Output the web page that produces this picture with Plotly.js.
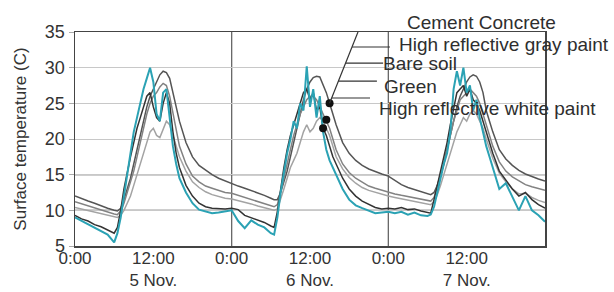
<!DOCTYPE html>
<html>
<head>
<meta charset="utf-8">
<script src="https://cdn.plot.ly/plotly-3.0.1.min.js"></script>
<style>html,body{margin:0;padding:0;background:#fff;}#chart{width:614px;height:292px;}</style>
</head>
<body>
<div id="chart"></div>
<script>
// Time in hours since 0:00, 5 Nov.
var hours = [0,1,2,3,4,5,6,6.5,7,7.5,8,8.5,9,9.5,10,10.5,11,11.5,12,12.5,13,13.5,14,14.5,15,15.5,16,17,18,19,20,21,22,23,
  24,25,26,27,28,29,30,30.5,31,31.5,32,32.5,33,33.5,34,34.5,35,35.5,36,36.5,37,37.5,38,38.5,39,39.5,40,41,42,43,44,45,46,47,
  48,49,50,51,52,53,54,54.5,55,55.5,56,56.5,57,57.5,58,58.5,59,59.5,60,60.5,61,61.5,62,62.5,63,63.5,64,65,66,67,68,69,70,71,72];

var cementConcrete = [12.0,11.6,11.3,11.0,10.6,10.3,10.0,9.9,10.3,11.5,13.0,14.5,16.5,18.5,20.5,22.5,24.5,26.0,27.0,28.0,29.0,29.5,29.3,28.5,26.5,24.5,22.5,19.5,17.5,16.3,15.6,15.0,14.5,14.1,
  13.8,13.4,13.1,12.8,12.4,12.1,11.7,11.5,11.5,12.5,14.0,15.5,17.5,19.5,21.5,23.5,25.5,27.0,28.0,28.6,28.8,28.7,27.5,26.5,25.0,23.5,22.0,19.5,18.0,17.0,16.3,15.8,15.4,15.1,
  14.8,14.2,13.6,13.2,12.9,12.6,12.3,12.2,12.5,13.5,15.0,16.5,18.5,20.5,22.5,24.5,26.0,27.0,28.0,28.7,29.0,28.8,28.0,26.5,24.0,22.5,21.0,18.5,17.2,16.3,15.6,15.1,14.7,14.4,14.1];

var grayPaint = [11.2,10.9,10.6,10.3,10.0,9.7,9.5,9.4,9.9,11.0,12.5,14.0,15.5,17.5,19.5,21.5,23.5,25.0,26.0,26.5,27.3,27.8,27.5,26.0,23.5,21.0,19.0,16.5,14.8,14.0,13.4,13.1,12.8,12.5,
  12.4,12.1,11.8,11.5,11.2,10.9,10.6,10.5,10.8,12.5,14.5,16.5,18.5,20.5,22.0,23.5,24.5,25.5,26.0,26.0,25.5,24.5,23.5,22.7,21.5,20.0,18.5,16.5,15.3,14.5,13.9,13.4,13.1,12.8,
  12.6,12.3,12.1,11.9,11.7,11.6,11.4,11.3,11.8,13.2,14.8,16.5,18.5,20.5,22.5,24.0,25.5,26.0,26.5,27.0,26.5,26.0,25.0,23.5,22.0,20.5,19.0,16.8,15.5,14.7,14.1,13.6,13.3,13.0,12.8];

var bareSoil = [10.4,10.2,10.0,9.8,9.6,9.3,9.1,9.0,9.3,10.0,11.0,12.0,13.5,15.0,16.5,18.0,19.5,21.0,21.5,20.5,20.2,21.5,22.5,22.0,20.5,19.0,17.5,15.5,14.0,13.2,12.6,12.2,11.9,11.7,
  11.6,11.4,11.1,10.9,10.6,10.4,10.1,10.0,10.2,11.5,13.0,14.5,16.0,17.0,18.0,19.5,21.0,22.0,21.0,21.5,22.5,23.0,22.5,21.5,20.5,19.0,17.5,15.8,14.6,13.8,13.2,12.8,12.5,12.2,
  12.0,11.8,11.6,11.4,11.2,11.0,10.9,10.8,11.2,12.2,13.5,15.0,16.5,18.0,19.5,21.0,22.0,23.0,22.5,23.5,24.0,23.5,22.5,21.5,20.0,18.5,17.3,15.2,14.0,13.0,12.3,12.4,11.8,11.4,11.1];

var green = [9.3,8.8,8.5,8.0,7.7,7.3,6.8,7.6,10.0,13.0,15.5,17.5,19.5,21.5,23.0,24.5,26.0,26.5,24.5,23.0,22.5,25.0,26.5,25.0,21.0,18.0,16.0,13.5,12.0,11.0,10.5,10.3,10.2,10.2,
  10.3,10.1,9.3,9.0,8.6,8.3,7.8,7.6,9.8,13.0,16.0,18.5,20.5,22.0,23.5,25.0,26.5,27.0,25.5,26.5,24.0,24.5,21.5,20.5,19.0,17.5,16.5,14.5,13.0,12.0,11.3,10.8,10.4,10.2,
  10.3,10.2,10.4,10.1,10.2,9.9,9.7,9.6,11.5,13.5,15.5,17.5,19.5,22.0,24.5,26.5,27.0,27.5,26.0,27.0,25.5,25.0,24.0,22.5,21.0,19.5,18.0,15.5,14.2,13.0,12.0,12.5,11.5,10.8,10.3];

var whitePaint = [9.0,8.5,8.0,7.5,7.1,6.6,5.5,6.8,9.0,12.0,14.8,18.0,21.0,23.0,25.0,27.0,28.5,30.0,28.0,23.5,22.5,26.5,27.0,23.0,19.0,16.5,14.5,12.5,11.0,10.1,9.8,9.6,9.7,9.9,
  10.0,8.5,7.5,8.6,8.0,7.6,6.8,6.6,9.0,12.5,15.5,18.0,20.0,22.5,21.5,25.0,24.0,30.2,24.5,27.0,23.0,26.0,21.0,18.5,17.0,16.0,15.2,13.0,11.5,10.7,10.3,9.9,9.6,9.7,
  9.8,9.6,9.8,9.4,9.7,9.3,9.2,9.4,10.5,12.5,14.5,16.5,18.0,21.0,27.0,29.5,27.5,30.0,26.5,27.5,24.0,25.5,23.0,21.0,19.0,17.5,16.0,13.0,13.8,11.8,10.0,12.0,10.0,9.3,8.4];

var seriesNames = ['Cement Concrete','High reflective gray paint','Bare soil','Green','High reflective white paint'];
var seriesValues = [cementConcrete, grayPaint, bareSoil, green, whitePaint];
var seriesColors = ['#555555','#828282','#a3a3a3','#333333','#2ba2b4'];

var tickHours = [0,12,24,36,48,60];
var tickLabels = ['0:00','12:00<br>5 Nov.','0:00','12:00<br>6 Nov.','0:00','12:00<br>7 Nov.'];

// label callouts: label anchor (hour, temp) and hour at which dot sits on the series
var labelHours = [50.5, 49.3, 46.9, 47.0, 46.3];
var labelTemps = [36.4, 33.3, 30.6, 27.4, 24.3];
var dotHours = [39, 38.5, null, 38, null];

var font = 'Liberation Sans, Arial, Helvetica, sans-serif';
var traces = [];
for (var i = 0; i < seriesValues.length; i++) {
  traces.push({
    x: hours, y: seriesValues[i], name: seriesNames[i], type: 'scatter', mode: 'lines',
    line: {color: seriesColors[i], width: i === 4 ? 2 : 1.5}, hoverinfo: 'skip'
  });
}
// dots on curves
var dx = [], dy = [];
for (var j = 0; j < dotHours.length; j++) {
  if (dotHours[j] === null) continue;
  var k = hours.indexOf(dotHours[j]);
  dx.push(hours[k]); dy.push(seriesValues[j][k]);
}
traces.push({x: dx, y: dy, type: 'scatter', mode: 'markers', marker: {color: '#111', size: 8}, showlegend: false, hoverinfo: 'skip'});

var shapes = [];
// strong reference lines at 10 and 15
[10, 15].forEach(function (v) {
  shapes.push({type: 'line', xref: 'paper', x0: 0, x1: 1, yref: 'y', y0: v, y1: v, line: {color: '#3c3c3c', width: 1.3}, layer: 'below'});
});
[24, 48].forEach(function (v) {
  shapes.push({type: 'line', xref: 'x', x0: v, x1: v, yref: 'paper', y0: 0, y1: 1, line: {color: '#666', width: 1.3}, layer: 'below'});
});
// leader lines
var topX = 43.35, topY = 35;
var botX = dx[0], botY = dy[0];
shapes.push({type: 'line', xref: 'x', yref: 'y', x0: topX, y0: topY, x1: botX, y1: botY, line: {color: '#333', width: 1.2}});
var branchTemps = [32.9, 30.65, 28.1, 25.75];
var branchEnds = [48.25, 47.2, 46.25, 45.2];
branchTemps.forEach(function (t, n) {
  var xs = topX + (botX - topX) * (topY - t) / (topY - botY);
  shapes.push({type: 'line', xref: 'x', yref: 'y', x0: xs, y0: t, x1: branchEnds[n], y1: t, line: {color: '#333', width: 1.2}});
});

var yMin = 5, yMax = 35;
var annotations = [];
for (var a = 0; a < seriesNames.length; a++) {
  annotations.push({x: labelHours[a], y: (labelTemps[a] - yMin) / (yMax - yMin), xref: 'x', yref: 'paper', text: seriesNames[a], showarrow: false,
    xanchor: 'left', yanchor: 'middle', font: {family: font, size: 19, color: '#2e2e2e'}});
}

var layout = {
  width: 614, height: 292,
  margin: {l: 75, r: 69, t: 32, b: 46},
  paper_bgcolor: '#fff', plot_bgcolor: '#fff',
  showlegend: false,
  font: {family: font, color: '#333'},
  xaxis: {range: [0, 72], tickvals: tickHours, ticktext: tickLabels, showgrid: false, zeroline: false,
    showline: true, mirror: true, linecolor: '#444', linewidth: 1.5, ticks: '', ticklabelstandoff: -4,
    tickfont: {size: 17, color: '#333'}},
  yaxis: {range: [yMin, yMax], tickvals: [5,10,15,20,25,30,35], showgrid: true, gridcolor: '#c8c8c8', gridwidth: 1,
    zeroline: false, showline: true, mirror: true, linecolor: '#444', linewidth: 1.5,
    ticks: 'outside', ticklen: 5, tickcolor: '#aaa', tickfont: {size: 18, color: '#333'},
    title: {text: 'Surface temperature (C)', font: {size: 17, color: '#333'}, standoff: 14}},
  shapes: shapes,
  annotations: annotations
};

Plotly.newPlot('chart', traces, layout, {staticPlot: true, displayModeBar: false});
</script>
</body>
</html>
